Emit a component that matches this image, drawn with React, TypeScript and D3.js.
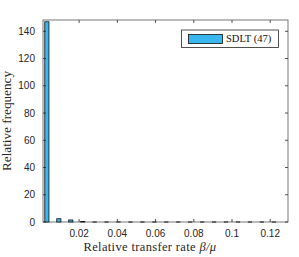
import * as d3 from 'd3'

// histogram bins (centers) and bar heights
const BIN_CENTERS = [
  0.003125, 0.009375, 0.015625, 0.021875, 0.028125, 0.034375, 0.040625, 0.046875,
  0.053125, 0.059375, 0.065625, 0.071875, 0.078125, 0.084375, 0.090625, 0.096875,
  0.103125, 0.109375, 0.115625, 0.121875,
]
const FREQS = [147, 2.4, 1.5, 0.4, 0, 0, 0, 0, 0, 0, 0, 0, 0, 0, 0, 0, 0, 0, 0, 0]
const X_TICKS = [0.02, 0.04, 0.06, 0.08, 0.1, 0.12]
const Y_TICKS = [0, 20, 40, 60, 80, 100, 120, 140]
const SERIES_NAME = 'SDLT (47)'

const W = 299
const H = 257
const M = { l: 43, r: 11, t: 20, b: 35 }
const AXIS = '#262626'
const FILL = '#38b6ee'
const SERIF = "'Liberation Serif', 'Times New Roman', serif"

export default function App() {
  const x = d3.scaleLinear().domain([0.0011, 0.1293]).range([M.l, W - M.r])
  const y = d3.scaleLinear().domain([0, 148.3]).range([H - M.b, M.t])
  const binW = 0.00625
  const barW = x(binW * 0.35) - x(0)
  const tk = 3

  return (
    <svg
      width={W}
      height={H}
      style={{ position: 'absolute', left: 0, top: 0, background: '#fff' }}
      fontFamily="'Liberation Sans', Arial, sans-serif"
    >
      <defs>
        <clipPath id="plot">
          <rect x={M.l} y={M.t - 1} width={W - M.l - M.r} height={H - M.t - M.b + 2} />
        </clipPath>
      </defs>

      {/* box */}
      <rect
        x={M.l}
        y={M.t}
        width={W - M.l - M.r}
        height={H - M.t - M.b}
        fill="none"
        stroke="#555"
        strokeWidth={0.8}
      />

      {/* bars (zero-height bins show as an edge dash on the baseline) */}
      <g clipPath="url(#plot)">
        {FREQS.map((f, i) =>
          f > 0 ? (
            <rect
              key={i}
              x={x(BIN_CENTERS[i]) - barW / 2}
              y={y(f)}
              width={barW}
              height={y(0) - y(f)}
              fill={FILL}
              stroke="#111"
              strokeWidth={0.8}
            />
          ) : (
            <line
              key={i}
              x1={x(BIN_CENTERS[i]) - barW / 2}
              x2={x(BIN_CENTERS[i]) + barW / 2}
              y1={y(0)}
              y2={y(0)}
              stroke="#111"
              strokeWidth={1}
            />
          )
        )}
      </g>

      {/* x ticks */}
      {X_TICKS.map(t => (
        <g key={t}>
          <line x1={x(t)} x2={x(t)} y1={y(0)} y2={y(0) - tk} stroke={AXIS} strokeWidth={0.8} />
          <line x1={x(t)} x2={x(t)} y1={M.t} y2={M.t + tk} stroke={AXIS} strokeWidth={0.8} />
          <text x={x(t)} y={y(0) + 15} textAnchor="middle" fontSize={10} fill={AXIS}>
            {String(t)}
          </text>
        </g>
      ))}

      {/* y ticks */}
      {Y_TICKS.map(t => (
        <g key={t}>
          <line x1={M.l} x2={M.l + tk} y1={y(t)} y2={y(t)} stroke={AXIS} strokeWidth={0.8} />
          <line x1={W - M.r} x2={W - M.r - tk} y1={y(t)} y2={y(t)} stroke={AXIS} strokeWidth={0.8} />
          <text x={M.l - 8} y={y(t) + 3.5} textAnchor="end" fontSize={10} fill={AXIS}>
            {t}
          </text>
        </g>
      ))}

      {/* axis labels */}
      <text
        x={150}
        y={251}
        textAnchor="middle"
        fontSize={12.5}
        fontFamily={SERIF}
        fill={AXIS}
        letterSpacing={0.35}
      >
        Relative transfer rate <tspan fontStyle="italic">β/μ</tspan>
      </text>
      <text
        transform={`translate(11,${(M.t + H - M.b) / 2}) rotate(-90)`}
        textAnchor="middle"
        fontSize={11.5}
        fontFamily={SERIF}
        fill={AXIS}
        textLength={100}
        lengthAdjust="spacingAndGlyphs"
      >
        Relative frequency
      </text>

      {/* legend */}
      <g>
        <rect x={181.5} y={30} width={97} height={17.5} fill="#fff" stroke={AXIS} strokeWidth={0.8} />
        <rect x={188.5} y={34.5} width={34} height={9} fill={FILL} stroke="#111" strokeWidth={0.8} />
        <text x={226} y={42} fontSize={10.5} fontFamily={SERIF} fill="#111">
          {SERIES_NAME}
        </text>
      </g>
    </svg>
  )
}
